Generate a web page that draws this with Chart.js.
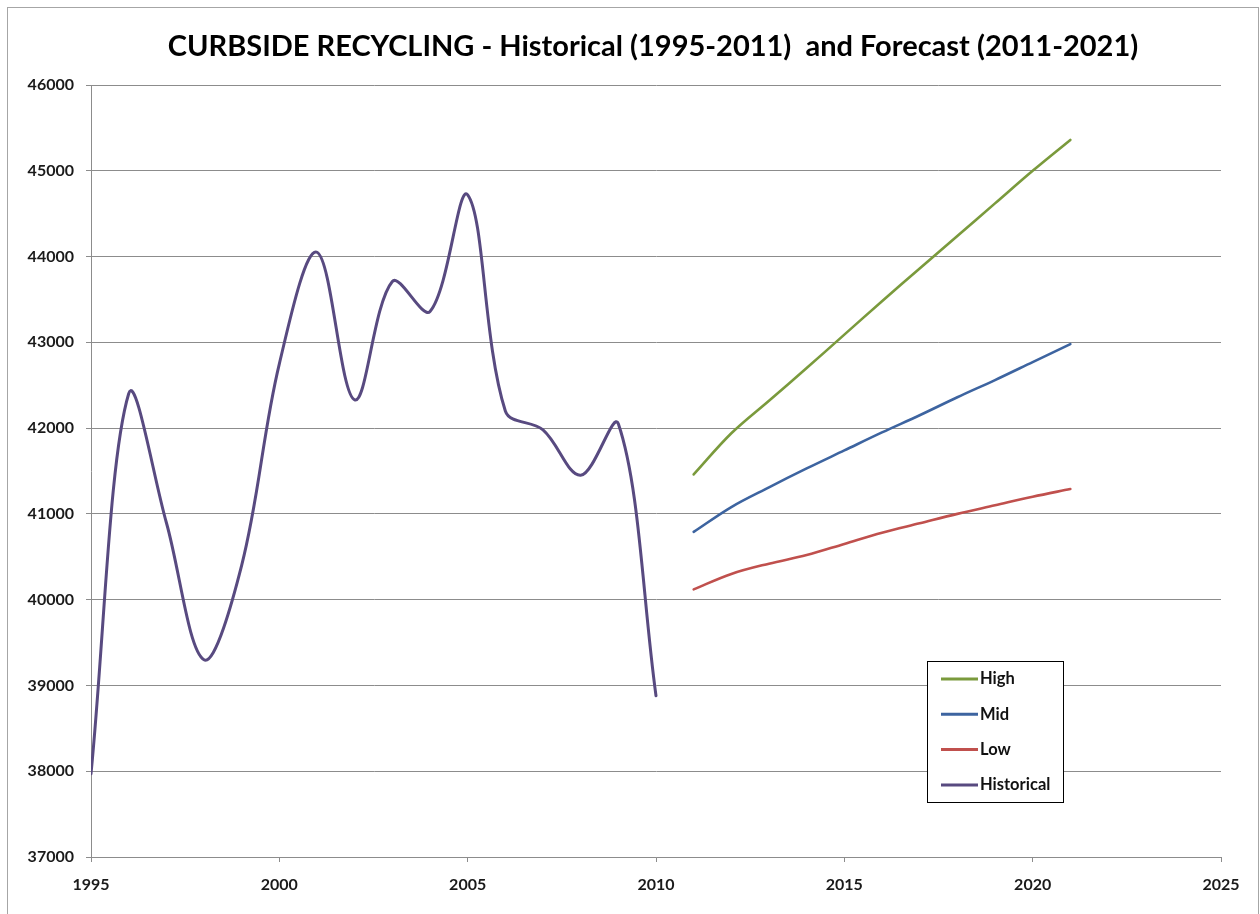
<!DOCTYPE html>
<html>
<head>
<meta charset="utf-8">
<script src="https://cdn.jsdelivr.net/npm/chart.js@4.4.1/dist/chart.umd.min.js"></script>
<style>
  html, body { margin: 0; padding: 0; background: #fff; }
  canvas { display: block; }
</style>
</head>
<body>
<canvas id="chart" width="1260" height="914"></canvas>
<script>
// Datos
const histYears = [1995, 1996, 1997, 1998, 1999, 2000, 2001, 2002, 2003, 2004, 2005, 2006, 2007, 2008, 2009, 2010];
const histValues = [37970, 42400, 40900, 39300, 40400, 42750, 44050, 42330, 43710, 43360, 44720, 42200, 41980, 41450, 42050, 38880];

const forecastYears = [2011, 2012, 2013, 2014, 2015, 2016, 2017, 2018, 2019, 2020, 2021];
const highValues = [41460, 41940, 42320, 42700, 43090, 43480, 43860, 44240, 44620, 45000, 45360];
const midValues = [40790, 41080, 41310, 41530, 41740, 41950, 42150, 42360, 42560, 42770, 42980];
const lowValues = [40120, 40300, 40420, 40520, 40650, 40780, 40890, 41000, 41100, 41200, 41290];

const titleText = 'CURBSIDE RECYCLING - Historical (1995-2011)  and Forecast (2011-2021)';

const colorHigh = '#7a9a3c';
const colorMid = '#3d64a0';
const colorLow = '#c0504d';
const colorHist = '#584a80';
const gridColor = '#8c8c8c';
const fontFamily = 'Lato, "Open Sans", sans-serif';

function toPoints(xs, ys) {
    return xs.map((x, i) => ({ x: x, y: ys[i] }));
}

// Marco, título y leyenda dibujados a mano
const decoPlugin = {
    id: 'deco',
    beforeDraw(chart) {
        const ctx = chart.ctx;
        ctx.save();
        ctx.fillStyle = '#fff';
        ctx.fillRect(0, 0, chart.width, chart.height);
        ctx.strokeStyle = '#a6a6a6';
        ctx.lineWidth = 1;
        ctx.strokeRect(7.5, 7.5, 1251, 920);
        ctx.restore();
    },
    afterDraw(chart) {
        const ctx = chart.ctx;
        ctx.save();
        // título
        ctx.fillStyle = '#000';
        ctx.font = 'bold 29px ' + fontFamily;
        ctx.textAlign = 'center';
        ctx.textBaseline = 'alphabetic';
        ctx.fillText(titleText, 653, 56);

        // leyenda
        const bx = 927.5, by = 661.5, bw = 136, bh = 141;
        ctx.fillStyle = '#fff';
        ctx.fillRect(bx, by, bw, bh);
        ctx.strokeStyle = '#000';
        ctx.lineWidth = 1;
        ctx.strokeRect(bx, by, bw, bh);
        ctx.font = 'bold 16.5px ' + fontFamily;
        ctx.textAlign = 'left';
        ctx.textBaseline = 'middle';
        chart.data.datasets.forEach((ds, i) => {
            const y = 679 + i * 35.3;
            ctx.strokeStyle = ds.borderColor;
            ctx.lineWidth = 3;
            ctx.beginPath();
            ctx.moveTo(941, y);
            ctx.lineTo(978, y);
            ctx.stroke();
            ctx.fillStyle = '#111';
            ctx.fillText(ds.label, 980, y);
        });
        ctx.restore();
    }
};

const tickFont = { family: fontFamily, weight: 'bold', size: 16 };

new Chart(document.getElementById('chart'), {
    type: 'line',
    data: {
        datasets: [
            { label: 'High', data: toPoints(forecastYears, highValues), borderColor: colorHigh, borderWidth: 2.6 },
            { label: 'Mid', data: toPoints(forecastYears, midValues), borderColor: colorMid, borderWidth: 2.6 },
            { label: 'Low', data: toPoints(forecastYears, lowValues), borderColor: colorLow, borderWidth: 2.6 },
            { label: 'Historical', data: toPoints(histYears, histValues), borderColor: colorHist, borderWidth: 3 }
        ]
    },
    options: {
        responsive: false,
        animation: false,
        devicePixelRatio: 1,
        layout: { padding: { top: 85, right: 39, bottom: 0, left: 0 } },
        elements: {
            point: { radius: 0, hoverRadius: 0 },
            line: { tension: 0.35, fill: false, borderCapStyle: 'round', borderJoinStyle: 'round' }
        },
        plugins: {
            legend: { display: false },
            tooltip: { enabled: false },
            title: { display: false }
        },
        scales: {
            x: {
                type: 'linear',
                min: 1995,
                max: 2025,
                ticks: { stepSize: 5, color: '#1a1a1a', font: tickFont, padding: 13, callback: v => String(v) },
                grid: { drawOnChartArea: false, color: gridColor, tickLength: 5 },
                border: { color: gridColor },
                afterFit: s => { s.height = 57; }
            },
            y: {
                min: 37000,
                max: 46000,
                ticks: { stepSize: 1000, color: '#1a1a1a', font: tickFont, padding: 12, callback: v => String(v) },
                grid: { color: gridColor, tickLength: 5 },
                border: { color: gridColor },
                afterFit: s => { s.width = 91; }
            }
        }
    },
    plugins: [decoPlugin]
});
</script>
</body>
</html>
